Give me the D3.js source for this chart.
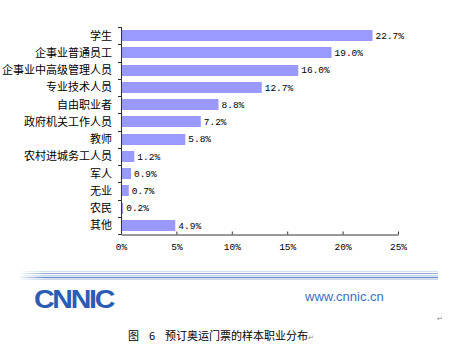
<!DOCTYPE html>
<html>
<head>
<meta charset="utf-8">
<script src="https://cdn.jsdelivr.net/npm/d3@7"></script>
<style>
  body { margin: 0; background: #fff; }
  svg { display: block; }
</style>
</head>
<body>
<div id="chart"></div>
<script>
var categories = ["学生", "企事业普通员工", "企事业中高级管理人员", "专业技术人员", "自由职业者",
                  "政府机关工作人员", "教师", "农村进城务工人员", "军人", "无业", "农民", "其他"];
var values = [22.7, 19.0, 16.0, 12.7, 8.8, 7.2, 5.8, 1.2, 0.9, 0.7, 0.2, 4.9];
var xTicks = [0, 5, 10, 15, 20, 25];

var W = 450, H = 354;
var plotL = 121, plotR = 398, plotT = 27, plotB = 234;

var svg = d3.select("#chart").append("svg")
    .attr("width", W)
    .attr("height", H);

var x = d3.scaleLinear().domain([0, 25]).range([plotL, plotR]);
var y = d3.scaleBand().domain(categories).range([plotT, plotB]).paddingInner(0.36).paddingOuter(0.18);

// bars
svg.selectAll("rect.bar")
    .data(categories)
  .enter().append("rect")
    .attr("class", "bar")
    .attr("x", plotL + 1)
    .attr("y", function(d) { return Math.round(y(d)); })
    .attr("width", function(d, i) { return x(values[i]) - plotL - 1; })
    .attr("height", Math.round(y.bandwidth()))
    .style("fill", "#9999ff");

// value labels
svg.selectAll("text.val")
    .data(categories)
  .enter().append("text")
    .attr("class", "val")
    .attr("x", function(d, i) { return x(values[i]) + 3; })
    .attr("y", function(d) { return y(d) + y.bandwidth() / 2; })
    .attr("dy", "0.35em")
    .style("font-family", "'Liberation Mono', 'DejaVu Sans Mono', monospace")
    .style("font-size", "9.5px")
    .style("fill", "#000")
    .text(function(d, i) { return values[i].toFixed(1) + "%"; });

// category labels
svg.selectAll("text.cat")
    .data(categories)
  .enter().append("text")
    .attr("class", "cat")
    .attr("x", 112)
    .attr("y", function(d) { return y(d) + y.bandwidth() / 2; })
    .attr("dy", "0.36em")
    .attr("text-anchor", "end")
    .style("font-family", "'Noto Sans CJK SC', sans-serif")
    .style("font-size", "11px")
    .style("fill", "#000")
    .text(function(d) { return d; });

// y axis with category boundary ticks
var bounds = d3.range(categories.length + 1).map(function(i) { return plotT + i * (plotB - plotT) / categories.length; });
svg.append("line")
    .attr("x1", plotL + 0.5).attr("x2", plotL + 0.5)
    .attr("y1", plotT).attr("y2", plotB)
    .style("stroke", "#333");
svg.selectAll("line.ytick")
    .data(bounds)
  .enter().append("line")
    .attr("class", "ytick")
    .attr("x1", plotL - 3).attr("x2", plotL + 0.5)
    .attr("y1", function(d) { return Math.round(d) + 0.5; })
    .attr("y2", function(d) { return Math.round(d) + 0.5; })
    .style("stroke", "#333");

// x axis
var xAxis = d3.axisBottom(x)
    .tickValues(xTicks)
    .tickSizeInner(-3)
    .tickSizeOuter(0)
    .tickPadding(9)
    .tickFormat(function(d) { return d + "%"; });

var gx = svg.append("g")
    .attr("class", "x axis")
    .attr("transform", "translate(0," + (plotB + 0.5) + ")")
    .call(xAxis);
gx.select(".domain").style("stroke", "#333");
gx.selectAll(".tick line").style("stroke", "#333");
gx.selectAll("text")
    .style("font-family", "'Liberation Mono', 'DejaVu Sans Mono', monospace")
    .style("font-size", "9.5px")
    .style("fill", "#000");

// rule lines of the page footer
var rules = [
  {y: 271.5, c: "#d3dff0", w: 1},
  {y: 273.5, c: "#8fabd6", w: 1.2},
  {y: 275.5, c: "#c5d5ec", w: 1},
  {y: 277.5, c: "#6a8fc9", w: 1.5},
  {y: 279.5, c: "#c9d8ee", w: 1}
];
var grad = svg.append("defs").append("linearGradient")
    .attr("id", "fade").attr("x1", "0").attr("x2", "1");
grad.append("stop").attr("offset", "0").attr("stop-color", "#fff").attr("stop-opacity", 0.9);
grad.append("stop").attr("offset", "0.06").attr("stop-color", "#fff").attr("stop-opacity", 0);
svg.selectAll("line.rule")
    .data(rules)
  .enter().append("line")
    .attr("class", "rule")
    .attr("x1", 20).attr("x2", 438)
    .attr("y1", function(d) { return d.y; })
    .attr("y2", function(d) { return d.y; })
    .style("stroke", function(d) { return d.c; })
    .style("stroke-width", function(d) { return d.w; });
svg.append("rect").attr("x", 20).attr("y", 269).attr("width", 418).attr("height", 13)
    .style("fill", "url(#fade)");

// logo
svg.append("text")
    .attr("x", 34).attr("y", 308)
    .attr("textLength", 79)
    .attr("lengthAdjust", "spacingAndGlyphs")
    .style("font-family", "'Liberation Sans', 'DejaVu Sans', sans-serif")
    .style("font-weight", "bold")
    .style("font-size", "25px")
    .style("letter-spacing", "-2px")
    .style("fill", "#2a5cb3")
    .text("CNNIC");

svg.append("text")
    .attr("x", 305).attr("y", 301)
    .style("font-family", "'Liberation Sans', Arial, sans-serif")
    .style("font-size", "13px")
    .style("fill", "#3a6fc3")
    .text("www.cnnic.cn");

svg.append("text")
    .attr("x", 437).attr("y", 321)
    .style("font-family", "'DejaVu Sans', sans-serif")
    .style("font-size", "7px")
    .style("fill", "#888")
    .text("↵");

// caption
var cap = svg.append("text")
    .attr("x", 128).attr("y", 340)
    .style("font-family", "'Noto Sans CJK SC', sans-serif")
    .style("font-size", "11px")
    .style("fill", "#000");
cap.append("tspan").text("图");
cap.append("tspan").attr("x", 149).text("6");
cap.append("tspan").attr("x", 165).text("预订奥运门票的样本职业分布");
cap.append("tspan").style("font-size", "7px").style("fill", "#888").text("↵");
</script>
</body>
</html>
